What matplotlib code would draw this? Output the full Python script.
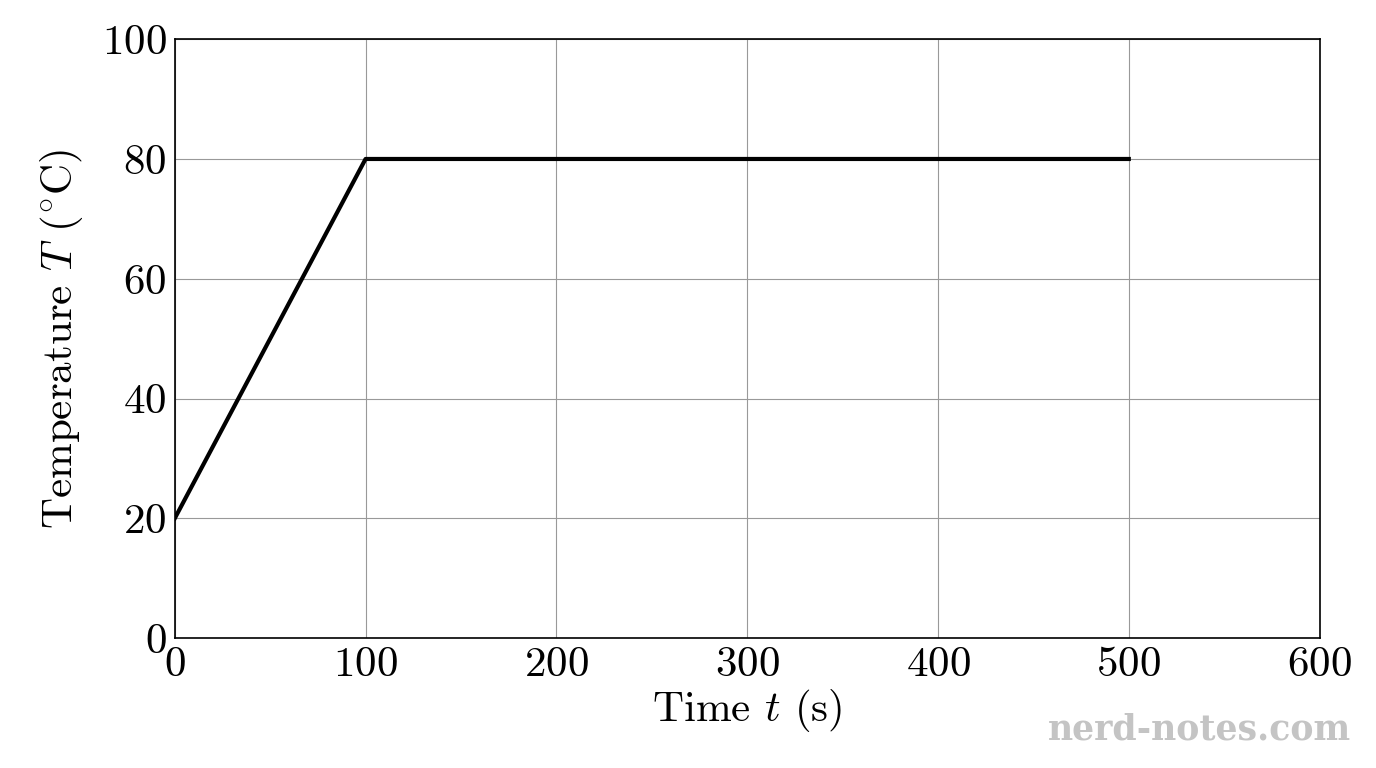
import matplotlib
matplotlib.use("Agg")
import matplotlib.pyplot as plt

plt.rcParams["font.family"] = ["cmr10", "DejaVu Serif"]
plt.rcParams["mathtext.fontset"] = "cm"
plt.rcParams["axes.formatter.use_mathtext"] = True

time_s = [0, 100, 500]
temp_c = [20, 80, 80]

fig = plt.figure(figsize=(13.76, 7.68), dpi=100)
ax = fig.add_axes([0.127, 0.169, 0.832, 0.780])
ax.plot(time_s, temp_c, color="black", lw=3, zorder=3)
ax.set_xlim(0, 600)
ax.set_ylim(0, 100)
ax.set_xticks(range(0, 601, 100))
ax.set_yticks(range(0, 101, 20))
ax.grid(True, color="#999999", lw=0.8)
ax.tick_params(labelsize=31, direction="in", length=0, pad=6)
for s in ax.spines.values():
    s.set_linewidth(1.2)
ax.set_xlabel(r"Time $t$ (s)", fontsize=31, labelpad=2)
ax.set_ylabel(r"Temperature $T$ ($^{\circ}\mathrm{C}$)", fontsize=31, labelpad=12)
fig.text(0.982, 0.05, "nerd-notes.com", fontsize=25, color="#c4c4c4",
         ha="right", va="center", fontweight="bold", family="DejaVu Serif")
fig.savefig("out.png", dpi=100)
